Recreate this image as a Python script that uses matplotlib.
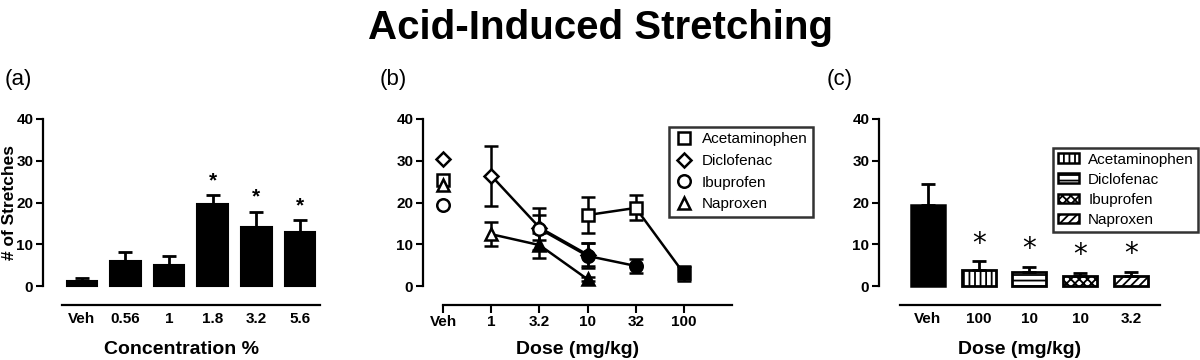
import matplotlib
matplotlib.use("Agg")
import matplotlib.pyplot as plt
from matplotlib.patches import Patch
from matplotlib.lines import Line2D
import numpy as np

plt.rcParams['font.family'] = ['Liberation Sans', 'DejaVu Sans']
plt.rcParams['hatch.linewidth'] = 1.3

# ---------------- data ----------------
# panel (a)
conc_labels = ["Veh", "0.56", "1", "1.8", "3.2", "5.6"]
conc_means = [1.3, 5.9, 5.0, 19.6, 14.2, 13.0]
conc_errs = [0.5, 2.2, 2.3, 2.2, 3.6, 2.8]
conc_sig = [False, False, False, True, True, True]

# panel (b)
dose_labels = ["Veh", "1", "3.2", "10", "32", "100"]
drugs = ["Acetaminophen", "Diclofenac", "Ibuprofen", "Naproxen"]
drug_markers = {"Acetaminophen": "s", "Diclofenac": "D", "Ibuprofen": "o", "Naproxen": "^"}
veh_values = {"Acetaminophen": 25.3, "Diclofenac": 30.5, "Ibuprofen": 19.3, "Naproxen": 24.2}
acet_dose = ["10", "32", "100"]
acet_mean = [17.0, 18.7, 3.0]
acet_err = [4.4, 3.0, 1.9]
acet_sig = [False, False, True]
dicl_dose = ["1", "3.2", "10"]
dicl_mean = [26.4, 14.0, 7.5]
dicl_err = [7.2, 3.0, 2.8]
dicl_sig = [False, False, True]
ibu_dose = ["3.2", "10", "32"]
ibu_mean = [13.7, 7.2, 4.8]
ibu_err = [5.0, 3.0, 1.6]
ibu_sig = [False, True, True]
nap_dose = ["1", "3.2", "10"]
nap_mean = [12.4, 9.8, 1.6]
nap_err = [2.9, 3.0, 0.5]
nap_sig = [False, True, True]

# panel (c)
c_labels = ["Veh", "100", "10", "10", "3.2"]
c_drug = [None, "Acetaminophen", "Diclofenac", "Ibuprofen", "Naproxen"]
c_means = [19.4, 3.8, 3.4, 2.4, 2.5]
c_errs = [5.1, 2.1, 1.2, 0.8, 0.9]
c_sig = [False, True, True, True, True]
c_hatch = {"Acetaminophen": "|||", "Diclofenac": "---", "Ibuprofen": "xxxx", "Naproxen": "////"}

# ---------------- figure ----------------
W, H = 1200, 360
fig = plt.figure(figsize=(12, 3.6), dpi=100)

def fx(px):
    return px / W

def fy(py):
    return 1 - py / H

y0_px, y40_px, spine_px = 286, 119, 305
ax_h_px = spine_px - y40_px
ylo = -(spine_px - y0_px) / ((y0_px - y40_px) / 40.0)

def make_axes(left_px, right_px):
    ax = fig.add_axes([fx(left_px), fy(spine_px), (right_px - left_px) / W,
                       ax_h_px / H])
    ax.set_ylim(ylo, 40)
    ax.spines['top'].set_visible(False)
    ax.spines['right'].set_visible(False)
    ax.spines['left'].set_bounds(0, 40)
    ax.spines['left'].set_linewidth(1.6)
    ax.spines['bottom'].set_linewidth(1.6)
    ax.set_yticks([0, 10, 20, 30, 40])
    ax.tick_params(axis='y', length=5, width=1.5, pad=2, labelsize=11)
    for lab in ax.get_yticklabels():
        lab.set_fontweight('bold')
    ax.patch.set_alpha(0)
    return ax

def place_xlabel(ax, text):
    ax.set_xlabel(text, fontsize=14, fontweight='bold')
    ax.xaxis.set_label_coords(0.5, (spine_px - 341) / ax_h_px)

# ---- (a)
axa = make_axes(43, 320)
xa = np.arange(len(conc_labels))
axa.set_xlim(-0.89, 5.46)
axa.spines['bottom'].set_bounds(-0.46, 5.46)
axa.bar(xa, conc_means, width=0.7, color='black', edgecolor='black', linewidth=1.5)
axa.errorbar(xa, conc_means, yerr=[np.zeros(len(xa)), conc_errs], fmt='none',
             ecolor='black', elinewidth=2, capsize=5, capthick=2)
for i, s in enumerate(conc_sig):
    if s:
        axa.text(xa[i], conc_means[i] + conc_errs[i] + 1.2, "*", ha='center', va='bottom',
                 fontsize=15, fontweight='bold')
axa.set_xticks(xa)
axa.set_xticklabels(conc_labels, fontweight='bold')
axa.tick_params(axis='x', length=0, pad=5, labelsize=11)
place_xlabel(axa, "Concentration %")
axa.set_ylabel("# of Stretches", fontsize=12.5, fontweight='bold')
axa.yaxis.set_label_coords((17 - 43) / 277, (spine_px - 202) / ax_h_px)

# ---- (b)
axb = make_axes(423, 732)
xb = np.arange(len(dose_labels))
axb.set_xlim(-0.42, 6.0)
axb.spines['bottom'].set_bounds(0, 6)
axb.set_xticks(xb)
axb.set_xticklabels(dose_labels, fontweight='bold')
axb.tick_params(axis='x', length=6, width=1.5, pad=1.5, labelsize=11)
place_xlabel(axb, "Dose (mg/kg)")

series = {
    "Acetaminophen": (acet_dose, acet_mean, acet_err, acet_sig),
    "Diclofenac": (dicl_dose, dicl_mean, dicl_err, dicl_sig),
    "Ibuprofen": (ibu_dose, ibu_mean, ibu_err, ibu_sig),
    "Naproxen": (nap_dose, nap_mean, nap_err, nap_sig),
}
msz = {"s": 9, "D": 7.5, "o": 9, "^": 9}
for d in drugs:
    doses, means, errs, sig = series[d]
    xs = [dose_labels.index(v) for v in doses]
    m = drug_markers[d]
    axb.errorbar(xs, means, yerr=errs, fmt='none', ecolor='black', elinewidth=1.8,
                 capsize=5, capthick=1.8, zorder=2)
    axb.plot(xs, means, '-', color='black', lw=1.8, zorder=3)
    for x, y, s in zip(xs, means, sig):
        axb.plot(x, y, marker=m, ms=msz[m], mew=1.8, mec='black',
                 mfc='black' if s else 'white', zorder=4)
    axb.plot(0, veh_values[d], marker=m, ms=msz[m], mew=1.8, mec='black', mfc='white',
             zorder=4 if d != "Naproxen" else 5, linestyle='none')

handles_b = [Line2D([], [], marker=drug_markers[d], ms=msz[drug_markers[d]], mew=1.8,
                    mec='black', mfc='white', linestyle='none') for d in drugs]
legb = fig.legend(handles_b, drugs, loc='upper left', bbox_to_anchor=(fx(669), fy(127)),
                  bbox_transform=fig.transFigure, borderaxespad=0, fontsize=11,
                  frameon=True, fancybox=False, edgecolor='black', handletextpad=0.6,
                  labelspacing=0.5, borderpad=0.35, handlelength=1.2)
legb.get_frame().set_linewidth(1.8)

# ---- (c)
axc = make_axes(879, 1160)
xc = np.arange(len(c_labels))
axc.set_xlim(-0.96, 4.57)
axc.spines['bottom'].set_bounds(-0.55, 4.57)
for i in range(len(xc)):
    d = c_drug[i]
    if d is None:
        axc.bar(xc[i], c_means[i], width=0.67, color='black', edgecolor='black', linewidth=1.8)
    else:
        axc.bar(xc[i], c_means[i], width=0.67, color='white', edgecolor='black',
                linewidth=2.0, hatch=c_hatch[d])
axc.errorbar(xc, c_means, yerr=[np.zeros(len(xc)), c_errs], fmt='none', ecolor='black',
             elinewidth=2, capsize=5, capthick=2)
for i, s in enumerate(c_sig):
    if s:
        axc.text(xc[i], c_means[i] + c_errs[i] + 0.9, "*", ha='center', va='bottom',
                 fontsize=20, fontweight='normal', family='DejaVu Sans')
axc.set_xticks(xc)
axc.set_xticklabels(c_labels, fontweight='bold')
axc.tick_params(axis='x', length=0, pad=5, labelsize=11)
place_xlabel(axc, "Dose (mg/kg)")

handles_c = [Patch(facecolor='white', edgecolor='black', hatch=c_hatch[d], linewidth=1.8)
             for d in drugs]
legc = fig.legend(handles_c, drugs, loc='upper left', bbox_to_anchor=(fx(1053), fy(148)),
                  bbox_transform=fig.transFigure, borderaxespad=0, fontsize=11,
                  frameon=True, fancybox=False, edgecolor='black', handletextpad=0.6,
                  labelspacing=0.4, borderpad=0.3, handlelength=1.4, handleheight=0.6)
legc.get_frame().set_linewidth(1.8)

# ---- titles
fig.text(0.5, fy(28), "Acid-Induced Stretching", ha='center', va='center',
         fontsize=29, fontweight='bold')
for lab, xp in [("(a)", 5), ("(b)", 380), ("(c)", 827)]:
    fig.text(fx(xp), fy(80), lab, ha='left', va='center', fontsize=16)

fig.savefig("out.png", dpi=100)
